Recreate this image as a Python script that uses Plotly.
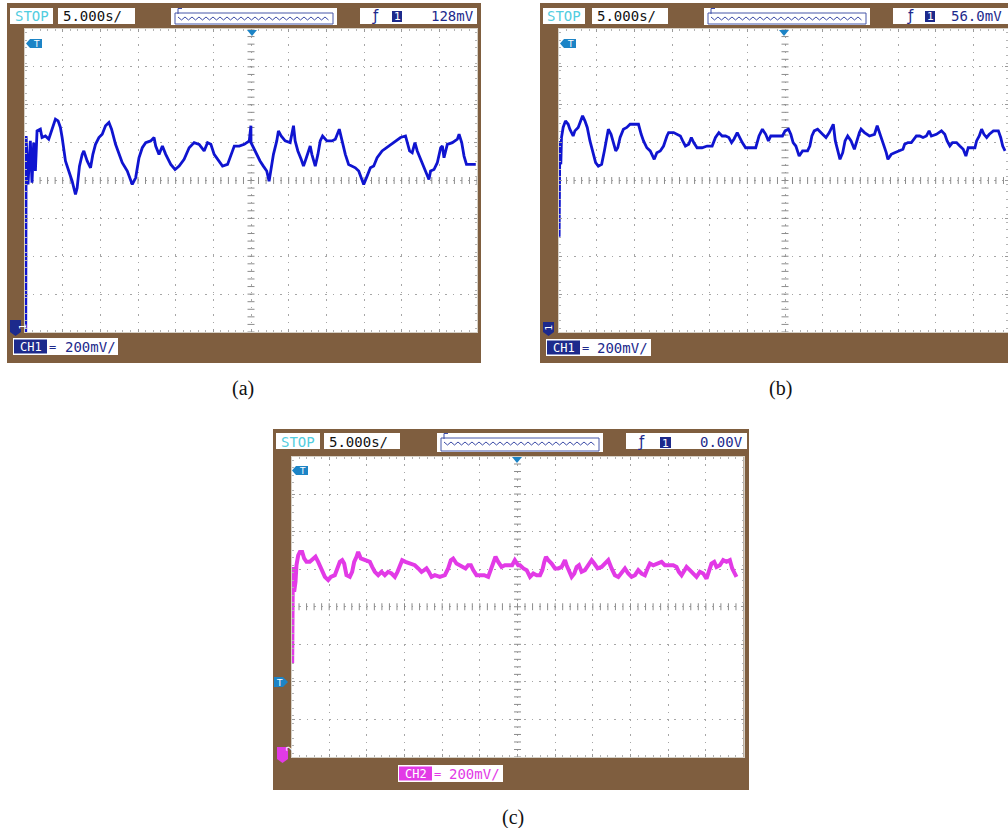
import numpy as np
import plotly.graph_objects as go

# ---------------- data ----------------
# time in seconds (12 div x 5 s), voltage in mV (200 mV/div, ground marker = 0 mV)
TIME_A = [0.10, 0.15, 0.40, 0.71, 0.93, 1.15, 1.38, 1.60, 2.04, 2.26, 2.71, 3.15, 3.37, 3.82, 4.04,
          4.39, 4.70, 4.93, 5.37, 5.81, 6.26, 6.70, 6.92, 7.23, 7.59, 7.81, 8.25, 8.70, 9.01, 9.36,
          9.81, 10.25, 10.69, 11.14, 11.49, 12.02, 12.47, 12.91, 13.58, 14.24, 14.69, 15.13, 15.57,
          16.02, 16.68, 17.13, 17.35, 17.79, 18.24, 18.68, 19.35, 19.92, 20.46, 21.12, 21.79, 22.45,
          23.12, 23.78, 24.23, 24.67, 25.11, 25.78, 26.22, 26.89, 27.33, 27.78, 28.44, 29.11, 29.77,
          29.99, 30.00, 30.31, 30.76, 31.20, 31.64, 32.09, 32.40, 32.66, 32.98, 33.42, 33.64, 34.00,
          34.53, 35.20, 35.64, 35.86, 36.22, 36.66, 36.97, 37.28, 37.64, 37.86, 38.08, 38.53, 38.88,
          39.19, 39.50, 40.08, 40.75, 41.19, 41.72, 42.08, 42.52, 42.96, 43.41, 43.85, 44.30, 44.96,
          45.41, 45.85, 46.29, 46.74, 47.40, 48.29, 49.18, 49.85, 50.51, 50.73, 51.05, 51.40, 51.76,
          52.07, 52.51, 52.95, 53.40, 53.62, 53.84, 54.29, 54.73, 55.18, 55.40, 55.62, 56.06, 56.73,
          57.39, 57.62, 57.97, 58.28, 58.60, 59.17, 59.84]
CH1_A_MV = [-20, 1015, 759, 989, 768, 980, 830, 1042, 1051, 1007, 1015, 998, 1024, 1077, 1104,
            1095, 1060, 1007, 883, 830, 776, 706, 741, 856, 918, 936, 883, 847, 918, 971,
            1007, 1024, 1069, 1086, 1051, 971, 918, 874, 830, 759, 794, 900, 953,
            980, 989, 1007, 962, 918, 962, 918, 865, 838, 856, 892, 953, 980,
            971, 936, 980, 971, 918, 883, 856, 865, 918, 962, 962, 971, 989,
            1069, 980, 953, 918, 883, 856, 830, 776, 838, 918, 989, 1042, 1015,
            989, 980, 1069, 989, 936, 892, 856, 892, 936, 962, 918, 856, 918,
            989, 1015, 989, 989, 998, 1051, 989, 918, 865, 856, 847, 830, 759,
            803, 847, 856, 900, 936, 962, 989, 1007, 1015, 980, 936, 927, 980,
            936, 892, 856, 812, 785, 830, 838, 874, 953, 962, 900, 971, 980,
            998, 1024, 980, 909, 865, 865, 865]

TIME_B = [0.02, 0.11, 0.24, 0.33, 0.55, 0.86, 1.22, 1.44, 1.88, 2.11, 2.55, 2.77, 3.13, 3.44, 3.75,
          4.11, 4.55, 4.86, 5.22, 5.66, 6.02, 6.33, 6.55, 6.91, 7.22, 7.53, 7.80, 8.11, 8.55, 9.00,
          9.44, 10.11, 10.55, 10.91, 11.22, 11.66, 12.11, 12.64, 12.99, 13.44, 13.88, 14.33, 14.55,
          15.22, 15.66, 16.11, 16.42, 16.78, 17.22, 17.57, 17.88, 18.33, 18.99, 19.66, 20.33, 20.77,
          21.22, 21.66, 22.11, 22.55, 22.91, 23.22, 23.66, 23.97, 24.33, 24.77, 25.44, 26.11, 26.55,
          27.00, 27.44, 27.80, 28.11, 28.77, 29.44, 29.66, 30.01, 30.46, 30.77, 31.08, 31.44, 31.88,
          32.33, 32.99, 33.30, 33.57, 33.88, 34.33, 34.99, 35.44, 35.88, 36.10, 36.41, 36.68, 36.99,
          37.30, 37.66, 37.97, 38.32, 38.77, 39.21, 39.52, 39.88, 40.10, 40.55, 41.21, 41.88, 42.24,
          42.55, 42.90, 43.21, 43.44, 43.66, 44.10, 44.55, 45.21, 45.66, 45.88, 46.32, 46.77, 47.08,
          47.44, 47.88, 48.32, 48.77, 49.13, 49.43, 50.10, 50.77, 51.21, 51.52, 51.88, 52.23, 52.77,
          53.21, 53.66, 54.01, 54.32, 54.77, 55.21, 55.43, 55.79, 56.10, 56.41, 56.77, 57.12, 57.66,
          58.32, 58.63, 58.90, 59.21]
CH1_B_MV = [483, 989, 865, 1007, 1060, 1095, 1077, 1051, 1015, 1042, 1060, 1086, 1122, 1095, 1060,
            989, 927, 874, 856, 865, 936, 1007, 1051, 1024, 980, 936, 953, 1007, 1051, 1060,
            1077, 1077, 1077, 1024, 989, 953, 936, 892, 927, 936, 962, 1015, 1033,
            1033, 1024, 1015, 989, 962, 971, 1007, 980, 953, 953, 962, 962, 1007,
            1033, 1015, 1015, 1007, 980, 998, 1033, 1007, 980, 953, 953, 953, 1015,
            1051, 1024, 989, 1015, 1015, 1015, 1015, 1042, 1051, 1024, 980, 962, 909,
            936, 936, 962, 1015, 1042, 1051, 1024, 1007, 1033, 1051, 1077, 989, 936,
            892, 927, 989, 1015, 989, 945, 989, 1033, 1051, 1033, 1015, 1024, 1069,
            1033, 989, 962, 927, 892, 918, 927, 936, 945, 971, 980, 980, 998,
            1015, 1015, 1007, 1015, 1042, 1015, 1024, 1042, 1024, 989, 962, 980, 980,
            962, 945, 909, 953, 953, 953, 989, 1015, 1051, 1024, 1007, 1024, 1042,
            1042, 1007, 962, 936]

TIME_C = [0.09, 0.18, 0.35, 0.53, 0.66, 0.89, 1.11, 1.42, 1.68, 1.99, 2.43, 2.88, 3.19, 3.54, 3.76,
          4.07, 4.43, 4.87, 5.22, 5.75, 6.11, 6.42, 6.73, 6.99, 7.30, 7.74, 8.05, 8.32, 8.63, 8.85,
          9.20, 9.74, 10.40, 10.71, 11.06, 11.51, 11.95, 12.39, 12.83, 13.28, 13.72, 14.07, 14.38,
          14.69, 15.13, 15.71, 16.37, 16.82, 17.26, 17.61, 17.92, 18.23, 18.59, 19.03, 19.69, 20.36,
          20.80, 21.15, 21.46, 21.90, 22.35, 22.79, 23.10, 23.45, 23.81, 24.12, 24.56, 25.00, 25.58,
          26.11, 26.46, 26.77, 27.08, 27.44, 27.88, 28.32, 28.76, 29.29, 29.65, 30.09, 30.33, 30.78,
          31.22, 31.66, 32.10, 32.54, 32.99, 33.30, 33.56, 33.78, 34.09, 34.53, 34.98, 35.42, 35.86,
          36.30, 36.52, 36.83, 37.19, 37.54, 37.85, 38.16, 38.51, 38.95, 39.40, 39.84, 40.19, 40.63,
          41.16, 41.61, 42.05, 42.49, 42.93, 43.38, 43.82, 44.26, 44.70, 45.14, 45.59, 46.03, 46.47,
          46.91, 47.27, 47.58, 48.02, 48.46, 49.12, 49.56, 50.01, 50.67, 51.11, 51.42, 51.78, 52.13,
          52.44, 52.88, 53.32, 53.76, 54.21, 54.65, 55.09, 55.40, 55.75, 56.11, 56.42, 56.86, 57.30,
          57.74, 58.19, 58.50, 58.85, 59.07]
CH2_C_MV = [481, 992, 860, 913, 1001, 1054, 1072, 1072, 1037, 1019, 1019, 1037, 1046, 1019, 1001,
            966, 939, 922, 939, 948, 984, 1019, 1028, 1010, 948, 939, 966, 1019, 1046, 1072,
            1037, 1028, 1019, 992, 966, 948, 966, 948, 966, 957, 939, 966, 1001,
            1028, 1019, 1010, 1001, 984, 966, 975, 984, 966, 939, 948, 939, 948,
            984, 1028, 1037, 1010, 1001, 992, 984, 1001, 1001, 975, 948, 948, 948,
            939, 984, 1010, 1046, 1019, 992, 1001, 1001, 1001, 1028, 1001, 1001, 984,
            975, 939, 957, 948, 948, 975, 1019, 1046, 1028, 1010, 984, 984, 992,
            1028, 1001, 966, 939, 957, 992, 1001, 966, 975, 1001, 1028, 1010, 984,
            992, 1010, 1028, 984, 948, 939, 966, 984, 957, 939, 948, 975, 957,
            948, 984, 1010, 1001, 1010, 1019, 1001, 1001, 1001, 992, 966, 948, 975,
            992, 975, 957, 939, 966, 957, 930, 966, 1010, 1019, 992, 1001, 1028,
            1019, 1028, 984, 957, 939]

PANEL_LABELS = ["(a)", "(b)", "(c)"]
TIMEBASE = "5.000s/"
TRIGGER_LEVELS = ["128mV", "56.0mV", "0.00V"]
CHANNEL_NAMES = ["CH1", "CH1", "CH2"]
CHANNEL_SCALE = "200mV/"
CHANNEL_MARKS = ["1", "1", "2"]

# ---------------- styling / geometry ----------------
W, H = 1008, 828
BROWN = "#7f5e3f"
NAVY = "#1d2a8c"
TBLUE = "#1c84c6"
CYAN = "#52cde0"
BLUE = "#0f14d0"
MAGENTA = "#e23ae6"
MONO = "DejaVu Sans Mono"
SEC_PER_DIV, MV_PER_DIV = 5, 200
Y_LO, Y_HI = -20, 1580
X_SPAN = 60


def fx(px):
    return px / W


def fy(py):
    return 1 - py / H


panels = [
    dict(frame=(7, 3, 481, 363), grid=(25, 29, 477, 332), stop=(10, 8, 53, 24), tb=(58, 8, 135, 24),
         wave=(171, 8, 337, 25), trig=(360, 8, 477, 24), fsym=375, badge=(392, 11, 402, 22),
         lvl=452, ch=(13, 338, 118, 355), chb=(14, 47), cht=90, gnd=(10, 320, 21, 336),
         ttag=(26, 39, 42, 48), tri=(252, 31), label=(243, 388), color=BLUE, lw=2.8, chcol=NAVY,
         t=TIME_A, v=CH1_A_MV),
    dict(frame=(540, 3, 1010, 363), grid=(559, 29, 1011, 332), stop=(543, 8, 585, 24), tb=(592, 8, 668, 24),
         wave=(704, 8, 870, 25), trig=(893, 8, 1012, 24), fsym=910, badge=(925, 11, 935, 22),
         lvl=976, ch=(546, 339, 651, 356), chb=(547, 580), cht=622, gnd=(543, 322, 554, 336),
         ttag=(560, 39, 576, 48), tri=(784, 31), label=(780, 388), color=BLUE, lw=2.8, chcol=NAVY,
         t=TIME_B, v=CH1_B_MV),
    dict(frame=(273, 429, 749, 790), grid=(291.5, 456.5, 743.5, 757), stop=(276, 433, 320, 449),
         tb=(324, 433, 400, 449), wave=(437, 433, 603, 452), trig=(626, 433, 747, 449), fsym=641,
         badge=(660, 437, 671, 448), lvl=721, ch=(398, 765, 503, 782), chb=(399, 432), cht=474,
         gnd=(277, 747, 288, 763), ttag=(292, 466, 308, 475), tri=(517, 458), label=(513, 817),
         color=MAGENTA, lw=4.0, chcol=MAGENTA, t=TIME_C, v=CH2_C_MV),
]

shapes, annotations, traces = [], [], []
layout_axes = {}


def rect(x0, y0, x1, y1, fill, line_color=None, lw=0, layer="below"):
    shapes.append(dict(type="rect", xref="paper", yref="paper", x0=fx(x0), x1=fx(x1),
                       y0=fy(y1), y1=fy(y0), fillcolor=fill, layer=layer,
                       line=dict(width=lw, color=line_color or fill)))


def path(points, fill=None, line_color=None, lw=0, close=True, layer="above"):
    d = "M " + " L ".join(f"{fx(a):.5f},{fy(b):.5f}" for a, b in points)
    if close:
        d += " Z"
    s = dict(type="path", xref="paper", yref="paper", path=d, layer=layer,
             line=dict(width=lw, color=line_color or "rgba(0,0,0,0)"))
    if fill:
        s["fillcolor"] = fill
    shapes.append(s)


def text(s, cx, cy, color, size, family=MONO):
    annotations.append(dict(text=s, x=fx(cx), y=fy(cy), xref="paper", yref="paper", showarrow=False,
                            xanchor="center", yanchor="middle",
                            font=dict(family=family, size=size, color=color)))


for i, p in enumerate(panels):
    k = "" if i == 0 else str(i + 1)
    gx0, gy0, gx1, gy1 = p["grid"]
    px_per_s = (gx1 - gx0) / X_SPAN
    dx1 = min(gx1, W)
    xr = [0, (dx1 - gx0) / px_per_s]

    # frame and screen
    rect(*p["frame"], BROWN)
    rect(gx0, gy0, dx1, gy1, "white")

    # axes
    common = dict(showticklabels=False, showgrid=True, gridcolor="#a6a6a6", gridwidth=1,
                  griddash="1.5px,6px", zeroline=False, showline=True, linecolor="#d6d0c6",
                  linewidth=1, mirror="ticks", ticks="inside", ticklen=3, tickcolor="#9a9a9a",
                  fixedrange=True)
    layout_axes["xaxis" + k] = dict(common, domain=[fx(gx0), fx(dx1)], range=xr, dtick=SEC_PER_DIV,
                                    tick0=0, anchor="y" + k,
                                    minor=dict(dtick=1, ticks="inside", ticklen=2, tickcolor="#b4b4b4",
                                               showgrid=False))
    layout_axes["yaxis" + k] = dict(common, domain=[fy(gy1), fy(gy0)], range=[Y_LO, Y_HI],
                                    dtick=MV_PER_DIV, tick0=Y_LO, anchor="x" + k,
                                    minor=dict(dtick=MV_PER_DIV / 5, ticks="inside", ticklen=2,
                                               tickcolor="#b4b4b4", showgrid=False))

    # center cross tick marks
    yc = (Y_LO + Y_HI) / 2
    xs = np.arange(0, X_SPAN + 0.01, 1.0)
    traces.append(go.Scatter(x=xs, y=[yc] * len(xs), mode="markers", xaxis="x" + k, yaxis="y" + k,
                             marker=dict(symbol="line-ns", size=5, line=dict(width=1, color="#8c8c8c")),
                             hoverinfo="skip"))
    ys = np.arange(Y_LO, Y_HI + 0.01, MV_PER_DIV / 5)
    traces.append(go.Scatter(x=[X_SPAN / 2] * len(ys), y=ys, mode="markers", xaxis="x" + k, yaxis="y" + k,
                             marker=dict(symbol="line-ew", size=5, line=dict(width=1, color="#8c8c8c")),
                             hoverinfo="skip"))

    # signal trace
    traces.append(go.Scatter(x=p["t"], y=p["v"], mode="lines", xaxis="x" + k, yaxis="y" + k,
                             line=dict(color=p["color"], width=p["lw"]), hoverinfo="skip"))

    # top bar: STOP
    x0, y0, x1, y1 = p["stop"]
    rect(x0, y0, x1, y1, "white")
    text("STOP", (x0 + x1) / 2, (y0 + y1) / 2 + 0.5, CYAN, 14, "DejaVu Sans Mono")
    # timebase
    x0, y0, x1, y1 = p["tb"]
    rect(x0, y0, x1, y1, "white")
    text(TIMEBASE, (x0 + x1) / 2 - 4, (y0 + y1) / 2 + 0.5, "#111111", 14)
    # waveform overview box
    x0, y0, x1, y1 = p["wave"]
    rect(x0, y0, x1, y1, "white")
    ix0, iy0, ix1, iy1 = x0 + 4, y0 + 5, x1 - 4, y1 - 1
    rect(ix0, iy0, ix1, iy1, "white", "#4656a8", 1, layer="above")
    zig, xx, up = [], ix0 + 3, True
    while xx <= ix1 - 3:
        zig.append((xx, iy0 + 4 if up else iy0 + 7))
        xx += 3.5
        up = not up
    path(zig, line_color="#3a4aa6", lw=1, close=False)
    path([(ix0 + 3, iy0 + 1), (ix0 + 3, y0 + 0.5), (ix0 + 7, y0 + 0.5)], line_color="#3a4aa6", lw=1,
         close=False)
    # trigger box
    x0, y0, x1, y1 = p["trig"]
    rect(x0, y0, x1, y1, "white")
    text("\u0192", p["fsym"], (y0 + y1) / 2 + 0.5, NAVY, 15, "DejaVu Sans")
    bx0, by0, bx1, by1 = p["badge"]
    rect(bx0, by0, bx1, by1, NAVY, layer="above")
    text("1", (bx0 + bx1) / 2, (by0 + by1) / 2 + 0.5, "white", 11, "DejaVu Sans")
    text(TRIGGER_LEVELS[i], p["lvl"], (y0 + y1) / 2 + 0.5, NAVY, 14)

    # channel box
    x0, y0, x1, y1 = p["ch"]
    rect(x0, y0, x1, y1, "white")
    cb0, cb1 = p["chb"]
    rect(cb0, y0 + 1.5, cb1, y1 - 1.5, p["chcol"], layer="above")
    text(CHANNEL_NAMES[i], (cb0 + cb1) / 2, (y0 + y1) / 2 + 0.5, "white", 12, "DejaVu Sans Mono")
    text("=", cb1 + 5, (y0 + y1) / 2, p["chcol"], 12)
    text(CHANNEL_SCALE, p["cht"], (y0 + y1) / 2 + 0.5, p["chcol"], 14)

    # ground marker
    g0, h0, g1, h1 = p["gnd"]
    path([(g0, h0), (g1, h0), (g1, h1 - 4), ((g0 + g1) / 2, h1), (g0, h1 - 4)], fill=p["chcol"])
    annotations.append(dict(text=CHANNEL_MARKS[i], x=fx((g0 + g1) / 2), y=fy((h0 + h1) / 2 - 1),
                            xref="paper", yref="paper", showarrow=False, textangle=-90,
                            font=dict(family="DejaVu Sans", size=9, color="white")))

    # T tag top-left
    t0, u0, t1, u1 = p["ttag"]
    path([(t0, (u0 + u1) / 2), (t0 + 4, u0), (t1, u0), (t1, u1), (t0 + 4, u1)], fill=TBLUE)
    text("T", (t0 + t1) / 2 + 2, (u0 + u1) / 2 + 0.5, "white", 9, "DejaVu Sans")

    # trigger position triangle
    cx, cy = p["tri"]
    path([(cx - 5, cy - 1), (cx + 5, cy - 1), (cx, cy + 5)], fill=TBLUE)

    # panel label
    text(PANEL_LABELS[i], p["label"][0], p["label"][1], "#111111", 20, "Liberation Serif")

# extra trigger-level tag on left side of panel (c)
path([(274, 677), (283, 677), (288, 682), (283, 687), (274, 687)], fill=TBLUE)
text("T", 279.5, 682.5, "white", 9, "DejaVu Sans")

fig = go.Figure(data=traces)
fig.update_layout(width=W, height=H, margin=dict(l=0, r=0, t=0, b=0), paper_bgcolor="white",
                  plot_bgcolor="rgba(0,0,0,0)", showlegend=False, shapes=shapes,
                  annotations=annotations, **layout_axes)
fig.write_html("out.html", config={"displayModeBar": False, "staticPlot": True},
               post_script="document.body.style.margin='0';document.body.style.overflow='hidden';")
